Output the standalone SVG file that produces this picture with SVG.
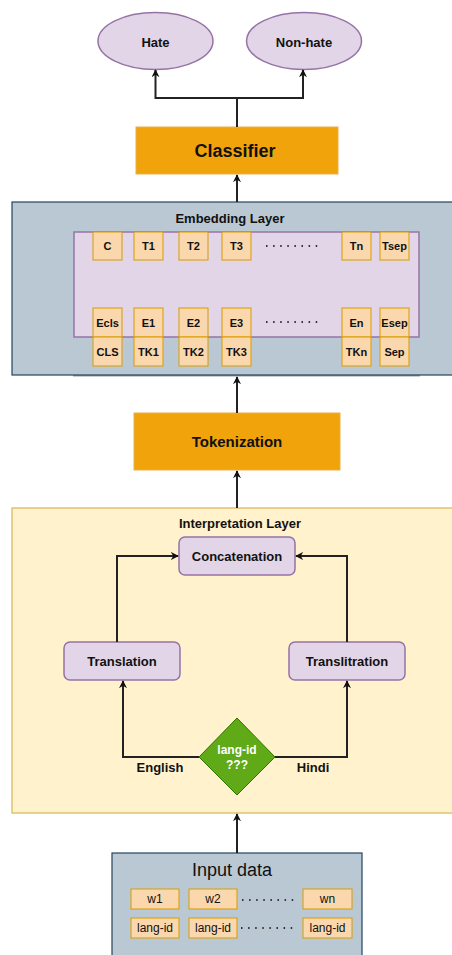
<svg xmlns="http://www.w3.org/2000/svg" width="452" height="955" viewBox="0 0 452 955">
<defs>
<marker id="arr" viewBox="0 0 10 10" refX="9" refY="5" markerWidth="8" markerHeight="8" orient="auto" markerUnits="userSpaceOnUse">
<path d="M0,0 L10,5 L0,10 L3,5 Z" fill="#111"/>
</marker>
<style>
text{font-family:"Liberation Sans",Arial,sans-serif;fill:#111;text-anchor:middle;dominant-baseline:central}
.b{font-weight:bold}
.conn{fill:none;stroke:#222;stroke-width:2;marker-end:url(#arr)}
.tok{fill:#fad7ac;stroke:#d79b00;stroke-width:1}
.purple{fill:#e1d5e7;stroke:#9673a6;stroke-width:1.5}
.orange{fill:#f0a30a;stroke:#e8b04a;stroke-width:1}
.blue{fill:#bac8d3;stroke:#23445d;stroke-width:1.2}
.dots{stroke:#333;stroke-width:2;stroke-dasharray:1.5 5.6;fill:none}
</style>
</defs>
<rect width="452" height="955" fill="#fff"/>

<g id="hate"><ellipse class="purple" cx="155.5" cy="41" rx="57.5" ry="28.5" stroke-width="1"/><text class="b" x="155.5" y="42" font-size="13">Hate</text></g>
<g id="nonhate"><ellipse class="purple" cx="304" cy="41" rx="57.5" ry="28.5" stroke-width="1"/><text class="b" x="304" y="42" font-size="13">Non-hate</text></g>

<g id="classifier"><rect class="orange" x="136" y="127" width="202" height="47"/><text class="b" x="235" y="151" font-size="18">Classifier</text></g>

<g id="embedding">
<rect x="73" y="374.5" width="347" height="2" fill="#9aa0a6"/>
<rect class="blue" x="12" y="202" width="445" height="173"/>
<text class="b" x="230" y="218" font-size="13">Embedding Layer</text>
<rect class="purple" x="74" y="232" width="345" height="105"/>
<g font-size="11">
<rect class="tok" x="93" y="232" width="29" height="28"/><text class="b" x="107.5" y="246" font-size="11">C</text>
<rect class="tok" x="134" y="232" width="29" height="28"/><text class="b" x="148.5" y="246" font-size="11">T1</text>
<rect class="tok" x="179" y="232" width="29" height="28"/><text class="b" x="193.5" y="246" font-size="11">T2</text>
<rect class="tok" x="222" y="232" width="29" height="28"/><text class="b" x="236.5" y="246" font-size="11">T3</text>
<rect class="tok" x="342" y="232" width="29" height="28"/><text class="b" x="356.5" y="246" font-size="11">Tn</text>
<rect class="tok" x="380" y="232" width="29" height="28"/><text class="b" x="394.5" y="246" font-size="11">Tsep</text>
<line class="dots" x1="266" y1="246" x2="322" y2="246"/>
<rect class="tok" x="93" y="308" width="29" height="29"/><text class="b" x="107.5" y="322.5" font-size="11">Ecls</text>
<rect class="tok" x="134" y="308" width="29" height="29"/><text class="b" x="148.5" y="322.5" font-size="11">E1</text>
<rect class="tok" x="179" y="308" width="29" height="29"/><text class="b" x="193.5" y="322.5" font-size="11">E2</text>
<rect class="tok" x="222" y="308" width="29" height="29"/><text class="b" x="236.5" y="322.5" font-size="11">E3</text>
<rect class="tok" x="342" y="308" width="29" height="29"/><text class="b" x="356.5" y="322.5" font-size="11">En</text>
<rect class="tok" x="380" y="308" width="29" height="29"/><text class="b" x="394.5" y="322.5" font-size="11">Esep</text>
<line class="dots" x1="266" y1="322" x2="322" y2="322"/>
<rect class="tok" x="93" y="337" width="29" height="29"/><text class="b" x="107.5" y="351.5" font-size="11">CLS</text>
<rect class="tok" x="134" y="337" width="29" height="29"/><text class="b" x="148.5" y="351.5" font-size="11">TK1</text>
<rect class="tok" x="179" y="337" width="29" height="29"/><text class="b" x="193.5" y="351.5" font-size="11">TK2</text>
<rect class="tok" x="222" y="337" width="29" height="29"/><text class="b" x="236.5" y="351.5" font-size="11">TK3</text>
<rect class="tok" x="342" y="337" width="29" height="29"/><text class="b" x="356.5" y="351.5" font-size="11">TKn</text>
<rect class="tok" x="380" y="337" width="29" height="29"/><text class="b" x="394.5" y="351.5" font-size="11">Sep</text>
</g>
</g>

<g id="tokenization"><rect class="orange" x="134" y="413" width="206" height="57"/><text class="b" x="237" y="441" font-size="15">Tokenization</text></g>

<g id="interpretation">
<rect x="12" y="508" width="445" height="305" fill="#fff2cc" stroke="#d6b656" stroke-width="1.2"/>
<text class="b" x="240" y="523" font-size="13" fill="#222">Interpretation Layer</text>
</g>
<g id="concatenation"><rect class="purple" x="179" y="537" width="116" height="38" rx="6"/><text class="b" x="237" y="556" font-size="13">Concatenation</text></g>
<g id="translation"><rect class="purple" x="64" y="642" width="116" height="38" rx="6"/><text class="b" x="122" y="661" font-size="13">Translation</text></g>
<g id="transliteration"><rect class="purple" x="289" y="642" width="116" height="38" rx="6"/><text class="b" x="347" y="661" font-size="13">Translitration</text></g>
<g id="langid"><path d="M237,718 L275,757 L237,795 L199,757 Z" fill="#60a917" stroke="#2d7600" stroke-width="1"/><text class="b" x="237" y="750" font-size="12" style="fill:#fff">lang-id</text><text class="b" x="237" y="765" font-size="12" style="fill:#fff">???</text></g>
<text class="b" x="160" y="767" font-size="13">English</text>
<text class="b" x="313" y="767" font-size="13">Hindi</text>

<g id="input">
<rect class="blue" x="112" y="853" width="250" height="110"/>
<text x="232" y="870" font-size="18">Input data</text>
<rect class="tok" x="131" y="889" width="48" height="20"/><text x="155" y="899" font-size="12">w1</text>
<rect class="tok" x="189" y="889" width="48" height="20"/><text x="213" y="899" font-size="12">w2</text>
<rect class="tok" x="303" y="889" width="49" height="20"/><text x="327.5" y="899" font-size="12">wn</text>
<line class="dots" x1="242" y1="900" x2="298" y2="900"/>
<rect class="tok" x="131" y="918" width="48" height="20"/><text x="155" y="928" font-size="12">lang-id</text>
<rect class="tok" x="189" y="918" width="48" height="20"/><text x="213" y="928" font-size="12">lang-id</text>
<rect class="tok" x="303" y="918" width="49" height="20"/><text x="327.5" y="928" font-size="12">lang-id</text>
<line class="dots" x1="241" y1="928" x2="297" y2="928"/>
</g>

<g id="connectors">
<path class="conn" d="M237,127 V98 H155.5 V70"/>
<path class="conn" d="M237,98 H303 V70"/>
<path class="conn" d="M237,202 V175"/>
<path class="conn" d="M237,413 V377"/>
<path class="conn" d="M237,508 V471"/>
<path class="conn" d="M237,853 V814"/>
<path class="conn" d="M199,757 H123 V681"/>
<path class="conn" d="M275,757 H347 V681"/>
<path class="conn" d="M117,642 V556 H178"/>
<path class="conn" d="M347,642 V556 H296"/>
</g>
</svg>
